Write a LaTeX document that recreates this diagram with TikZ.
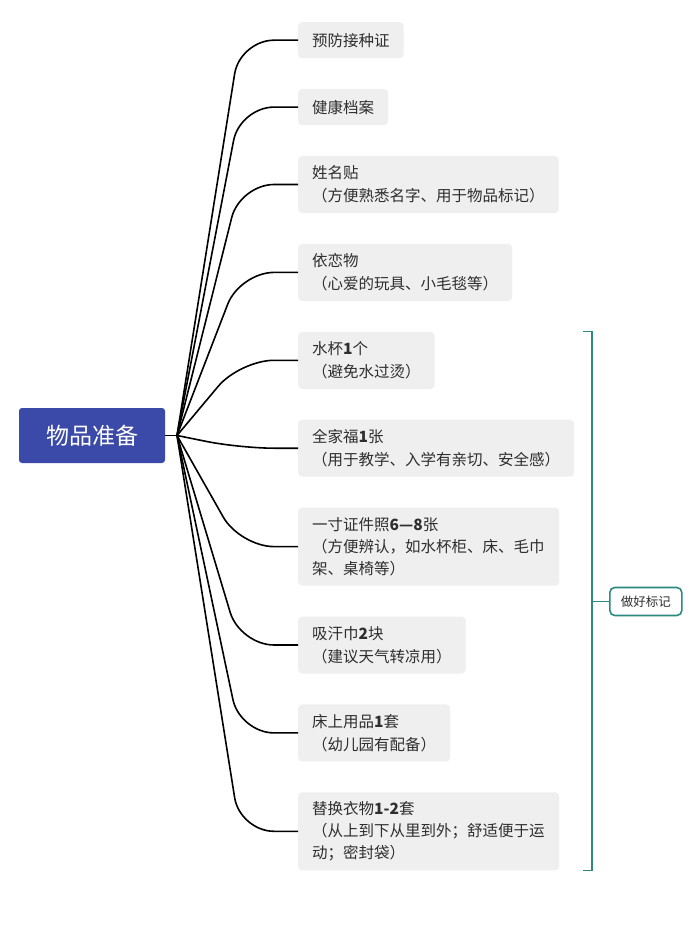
\documentclass[tikz,border=0pt]{standalone}
\usepackage{fontspec}
\setmainfont{Noto Sans CJK SC}
\usetikzlibrary{positioning}
\definecolor{RootBlue}{HTML}{3B4AA8}
\definecolor{LeafGray}{HTML}{EFEFEF}
\definecolor{InkGray}{HTML}{2E2E2E}
\definecolor{MarkTeal}{HTML}{2A8A80}
\tikzset{
  rootbox/.style={fill=RootBlue, rounded corners=3pt, text=white, font=\fontsize{23}{27}\selectfont, minimum width=146pt, minimum height=55pt, inner sep=0pt},
  leaf/.style={fill=LeafGray, rounded corners=4pt, text=InkGray, align=left, font=\fontsize{15.5}{23}\selectfont, inner xsep=14pt, inner ysep=0pt, minimum height=36pt},
  twoline/.style={leaf, minimum height=57pt},
  threeline/.style={leaf, minimum height=78pt, text width=233pt, font=\fontsize{15.5}{22}\selectfont},
  branch/.style={line width=1.6pt, rounded corners=34pt},
  markbox/.style={draw=MarkTeal, line width=1.6pt, rounded corners=5pt, fill=white, text=InkGray, font=\fontsize{12.5}{14}\selectfont, minimum width=72pt, minimum height=28pt, inner sep=0pt},
  bracket/.style={draw=MarkTeal, line width=1.6pt}
}

\begin{document}
\begin{tikzpicture}[x=1pt, y=-1pt]
\path[use as bounding box, fill=white] (0,0) rectangle (700,928);
\node[rootbox] (prep) at (92,435.5) {物品准备};
\coordinate (hub) at (177,435.5);
\coordinate (bend) at (240,0);
% leaves, about 31pt apart
\node[leaf, anchor=north west] (vacc) at (298,22) {预防接种证};
\node[leaf, below=30.5pt of vacc.south west, anchor=north west] (health) {健康档案};
\node[twoline, below=30.5pt of health.south west, anchor=north west] (namesticker) {姓名贴\\（方便熟悉名字、用于物品标记）};
\node[twoline, below=30.5pt of namesticker.south west, anchor=north west] (comfort) {依恋物\\（心爱的玩具、小毛毯等）};
\node[twoline, below=30.5pt of comfort.south west, anchor=north west] (cup) {水杯\textbf{1}个\\（避免水过烫）};
\node[twoline, below=30.5pt of cup.south west, anchor=north west] (photo) {全家福\textbf{1}张\\（用于教学、入学有亲切、安全感）};
\node[threeline, below=30.5pt of photo.south west, anchor=north west] (idphoto) {一寸证件照\textbf{6—8}张\\（方便辨认，如水杯柜、床、毛巾\\架、桌椅等）};
\node[twoline, below=30.5pt of idphoto.south west, anchor=north west] (towel) {吸汗巾\textbf{2}块\\（建议天气转凉用）};
\node[twoline, below=30.5pt of towel.south west, anchor=north west] (bedding) {床上用品\textbf{1}套\\（幼儿园有配备）};
\node[threeline, below=30.5pt of bedding.south west, anchor=north west] (clothes) {替换衣物\textbf{1-2}套\\（从上到下从里到外；舒适便于运\\动；密封袋）};

\draw[branch] (prep.east) -- (hub);
\foreach \leafname in {vacc,health,namesticker,comfort,cup,photo,idphoto,towel,bedding,clothes}
  \draw[branch] (hub) -- (\leafname.west -| bend) -- (\leafname.west);

% bracket for the marked items
\coordinate (brx) at (592,0);
\node[markbox, anchor=west] (mark) at (609,601.5) {做好标记};
\draw[bracket] ([xshift=-9pt]cup.north -| brx) -- (cup.north -| brx) -- (clothes.south -| brx) -- ++(-9,0);
\draw[bracket] (mark.west -| brx) -- (mark.west);
\end{tikzpicture}
\end{document}
